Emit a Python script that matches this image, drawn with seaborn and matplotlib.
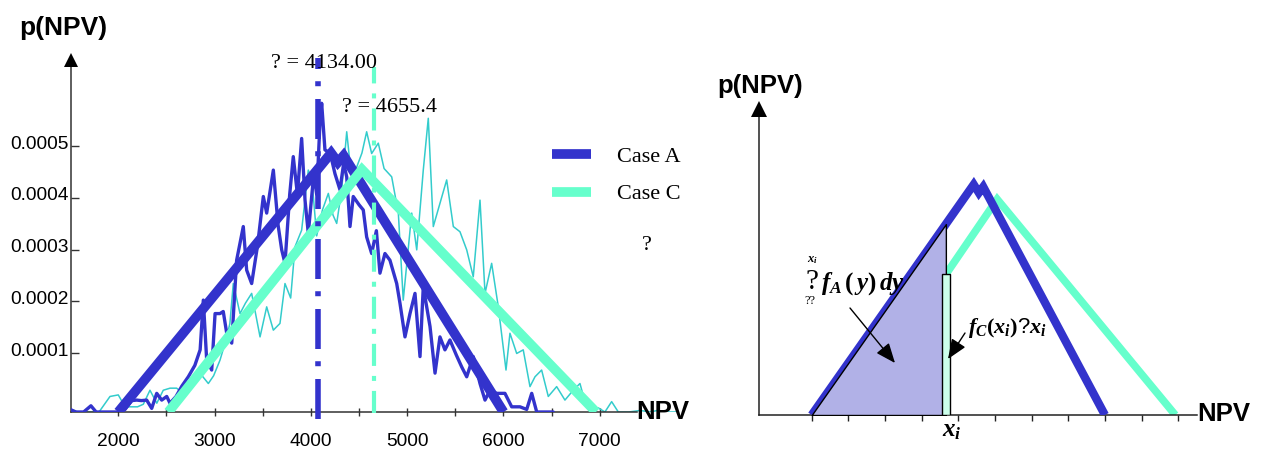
import numpy as np
import matplotlib
matplotlib.use("Agg")
import matplotlib.pyplot as plt
import seaborn as sns
from matplotlib.transforms import ScaledTranslation
from matplotlib.patches import FancyArrowPatch

# ---------------- data ----------------
# fitted triangular distributions (NPV, density)
case_a_npv = [2000, 4210, 4280, 4340, 6000]
case_a_p = [0.0, 5.0e-4, 4.82e-4, 4.95e-4, 0.0]
case_c_npv = [2520, 4530, 6960]
case_c_p = [0.0, 4.68e-4, 0.0]

# simulated (noisy) densities, values in units of 1e-4
sim_a_npv = [1500, 1560, 1640, 1716, 1770, 1850, 1930, 2000, 2070, 2140,
             2191, 2240, 2295, 2347, 2399, 2451, 2503, 2537, 2600, 2660,
             2727, 2795, 2850, 2883, 2918, 2970, 3005, 3056, 3090, 3126,
             3178, 3229, 3298, 3333, 3385, 3445, 3506, 3541, 3610, 3660,
             3697, 3731, 3780, 3817, 3860, 3904, 3939, 3973, 4030, 4060,
             4094, 4112, 4146, 4200, 4250, 4302, 4340, 4372, 4406, 4440,
             4500, 4544, 4579, 4631, 4680, 4717, 4769, 4821, 4891, 4925,
             4977, 5029, 5081, 5133, 5167, 5237, 5289, 5340, 5392, 5444,
             5510, 5566, 5618, 5686, 5756, 5808, 5860, 5929, 6015, 6085,
             6171, 6241, 6293, 6345, 6430, 6517]
sim_a_p = [0.05, 0.0, 0.0, 0.12, 0.0, 0.0, 0.0, 0.0, 0.05, 0.22,
           0.23, 0.22, 0.23, 0.07, 0.36, 0.23, 0.30, 0.17, 0.30, 0.50,
           0.68, 0.90, 1.20, 2.16, 1.00, 0.81, 1.90, 1.90, 1.94, 1.52,
           1.33, 2.93, 3.58, 2.74, 2.48, 3.20, 4.16, 3.84, 4.67, 3.60,
           3.13, 2.87, 4.20, 4.93, 4.20, 5.28, 4.09, 3.45, 4.60, 4.20,
           5.57, 5.96, 5.06, 5.00, 4.60, 4.29, 4.80, 4.54, 3.58, 4.16,
           4.00, 3.90, 3.38, 3.06, 3.50, 2.68, 3.06, 2.93, 2.48, 2.10,
           1.45, 1.90, 2.29, 1.07, 2.42, 1.65, 0.75, 1.45, 1.20, 1.39,
           1.10, 0.87, 0.68, 1.07, 0.55, 0.23, 0.42, 0.36, 0.36, 0.10,
           0.10, 0.05, 0.36, 0.0, 0.0, 0.0]
sim_c_npv = [1464, 1582, 1700, 1800, 1914, 2000, 2070, 2140, 2200, 2260,
             2329, 2400, 2467, 2537, 2606, 2675, 2760, 2848, 2935, 2990,
             3056, 3120, 3159, 3194, 3264, 3320, 3385, 3472, 3541, 3610,
             3679, 3731, 3790, 3835, 3904, 3973, 4010, 4060, 4120, 4181,
             4230, 4268, 4320, 4372, 4406, 4470, 4530, 4579, 4631, 4700,
             4760, 4839, 4908, 4959, 5047, 5099, 5167, 5219, 5271,
             5410, 5479, 5548, 5618, 5686, 5756, 5808, 5877, 5946, 6026,
             6067, 6137, 6205, 6275, 6327, 6396, 6465, 6552, 6638, 6724,
             6794, 6845, 6915, 6984, 7053, 7123, 7192, 7300, 7420, 7520,
             7600, 7700, 7812]
sim_c_p = [0.08, 0.0, 0.0, 0.0, 0.30, 0.33, 0.10, 0.10, 0.10, 0.15,
           0.42, 0.17, 0.42, 0.46, 0.46, 0.36, 0.50, 0.75, 0.55, 0.70,
           1.00, 1.40, 1.71, 2.48, 1.90, 2.10, 2.29, 1.45, 2.03, 1.58,
           1.71, 2.48, 2.20, 3.19, 3.51, 4.67, 4.50, 3.40, 3.90, 4.22,
           3.80, 3.64, 4.30, 5.41, 4.80, 4.70, 5.00, 5.41, 4.99, 5.19,
           4.70, 4.54, 3.84, 2.16, 3.84, 3.13, 4.67, 5.67, 3.58,
           4.48, 3.58, 3.48, 3.13, 2.61, 4.09, 2.29, 2.87, 2.03, 0.81,
           1.52, 1.13, 1.20, 0.49, 0.68, 0.81, 0.30, 0.49, 0.23, 0.42,
           0.55, 0.20, 0.05, 0.08, 0.0, 0.20, 0.0, 0.0, 0.03, 0.0,
           0.03, 0.0, 0.0]

mean_a_pos = 4070
mean_c_pos = 4660
mean_a_label = "? = 4134.00"
mean_c_label = "? = 4655.4"
legend_labels = ["Case A", "Case C"]

ytick_vals = [0.0001, 0.0002, 0.0003, 0.0004, 0.0005]
ytick_labels = ["0.0001", "0.0002", "0.0003", "0.0004", "0.0005"]
xtick_vals = [2000, 2500, 3000, 3500, 4000, 4500, 5000, 5500, 6000, 6500, 7000]
xtick_labels = ["2000", "", "3000", "", "4000", "", "5000", "", "6000", "", "7000"]

x_i = 3830
bar_width = 104
right_ticks = [2000, 2500, 3000, 3500, 4000, 4500, 5000, 5500, 6000, 6500, 7000]

# ---------------- style ----------------
BLUE = "#3333CC"
MINT = "#66FFCC"
TEAL = "#33CCCC"
FILL = "#B1B1E7"
BAR = "#CCFFEB"
SERIF = "Liberation Serif"
SANS = "Liberation Sans"

sns.set_theme(style="white")
plt.rcParams["font.family"] = [SANS, "DejaVu Sans"]
plt.rcParams["text.color"] = "black"
plt.rcParams["axes.labelcolor"] = "black"
plt.rcParams["xtick.color"] = "black"
plt.rcParams["ytick.color"] = "black"
plt.rcParams["mathtext.fontset"] = "custom"
plt.rcParams["mathtext.it"] = "Liberation Serif:italic:bold"
plt.rcParams["mathtext.rm"] = "Liberation Serif:bold"
plt.rcParams["mathtext.bf"] = "Liberation Serif:bold"

W, H = 1266, 450


def fx(px):
    return px / W


def fy(py):
    return 1 - py / H


fig = plt.figure(figsize=(W / 100, H / 100), dpi=100)

# ================= left chart =================
axL = fig.add_axes([fx(71), fy(412), (678 - 71) / W, (412 - 59.5) / H])
axL.set_xlim(1509, 7812)
axL.set_ylim(0, 6.805e-4)

sns.lineplot(x=sim_c_npv, y=np.array(sim_c_p) * 1e-4, ax=axL, color=TEAL,
             linewidth=1.1, estimator=None, sort=False, legend=False, zorder=2)
sns.lineplot(x=sim_a_npv, y=np.array(sim_a_p) * 1e-4, ax=axL, color=BLUE,
             linewidth=2.4, estimator=None, sort=False, legend=False, zorder=3)
sns.lineplot(x=case_a_npv, y=case_a_p, ax=axL, color=BLUE, linewidth=7,
             estimator=None, sort=False, label=legend_labels[0], zorder=4,
             solid_capstyle="butt", solid_joinstyle="miter")
sns.lineplot(x=case_c_npv, y=case_c_p, ax=axL, color=MINT, linewidth=7,
             estimator=None, sort=False, label=legend_labels[1], zorder=5,
             solid_capstyle="butt", solid_joinstyle="miter")

hL = 412 - 59.5
axL.axvline(mean_a_pos, ymin=-(419 - 412) / hL, ymax=(412 - 58) / hL, color=BLUE,
            lw=4, linestyle=(0, (7.2, 2.3, 0.9, 2.2)), clip_on=False, zorder=6)
axL.axvline(mean_c_pos, ymin=-(413 - 412) / hL, ymax=(412 - 67) / hL, color=MINT,
            lw=3, linestyle=(0, (5.3, 2.4, 1.2, 2.4)), clip_on=False, zorder=6)

for s in ["top", "right"]:
    axL.spines[s].set_visible(False)
for s in ["left", "bottom"]:
    axL.spines[s].set_color("#333333")
    axL.spines[s].set_linewidth(1.1)
axL.spines["bottom"].set_bounds(1509, 7390)

tick_shift = 1.35e-5
axL.set_yticks([v + tick_shift for v in ytick_vals], labels=ytick_labels)
axL.set_xticks(xtick_vals, labels=xtick_labels)
axL.tick_params(axis="y", direction="in", length=5.5, width=1, color="#333333",
                pad=1.5, labelsize=13.8, labelcolor="black", left=True)
axL.tick_params(axis="x", direction="inout", length=5.8, width=1, color="#333333",
                pad=12, labelsize=13.8, labelcolor="black", bottom=True)
off = ScaledTranslation(0, 4 / 100, fig.dpi_scale_trans)
for lab in axL.get_yticklabels():
    lab.set_transform(lab.get_transform() + off)
axL.grid(False)
axL.set_xlabel("")
axL.set_ylabel("")

axL.plot(0, 1, marker="^", ms=10, color="black", mew=0, transform=axL.transAxes,
         clip_on=False, zorder=10)

leg = axL.legend(loc="upper left", bbox_to_anchor=(fx(552), fy(146)),
                 bbox_transform=fig.transFigure, frameon=False, borderpad=0,
                 borderaxespad=0, handlelength=1.76, handletextpad=1.17,
                 labelspacing=0.78, prop={"family": SERIF, "size": 16})
for t in leg.get_texts():
    t.set_color("black")

fig.text(fx(63), fy(28), "p(NPV)", ha="center", va="center", fontsize=19,
         fontweight="bold", family=SANS)
fig.text(fx(663), fy(412), "NPV", ha="center", va="center", fontsize=18.5,
         fontweight="bold", family=SANS)
fig.text(fx(324), fy(63), mean_a_label, ha="center", va="center", fontsize=16,
         family=SERIF)
fig.text(fx(390), fy(107), mean_c_label, ha="center", va="center", fontsize=16,
         family=SERIF)
fig.text(fx(647), fy(246), "?", ha="center", va="center", fontsize=16, family=SERIF)

# ================= right chart =================
axR = fig.add_axes([fx(759.3), fy(415), (1196.7 - 759.3) / W, (415 - 109.2) / H])
axR.set_xlim(1285, 7252)
axR.set_ylim(0, 6.633e-4)

sns.lineplot(x=case_c_npv, y=case_c_p, ax=axR, color=MINT, linewidth=5.5,
             estimator=None, sort=False, legend=False, zorder=2,
             solid_capstyle="butt", solid_joinstyle="miter")
sns.lineplot(x=case_a_npv, y=case_a_p, ax=axR, color=BLUE, linewidth=6,
             estimator=None, sort=False, legend=False, zorder=3,
             solid_capstyle="butt", solid_joinstyle="miter")
fill_x = [case_a_npv[0], x_i]
fill_y = [0.0, float(np.interp(x_i, case_a_npv, case_a_p))]
axR.fill_between(fill_x, fill_y, 0, facecolor=FILL, edgecolor="black", lw=1.0,
                 zorder=4)
axR.bar([x_i], [float(np.interp(x_i, case_c_npv, case_c_p))], width=bar_width,
        color=BAR, edgecolor="black", linewidth=1.0, zorder=5)

for s in ["top", "right"]:
    axR.spines[s].set_visible(False)
for s in ["left", "bottom"]:
    axR.spines[s].set_color("#222222")
    axR.spines[s].set_linewidth(1.1)
axR.set_xticks(right_ticks, labels=[""] * len(right_ticks))
axR.set_yticks([])
axR.tick_params(axis="x", direction="out", length=4.5, width=1, color="#222222",
                bottom=True)
axR.grid(False)
axR.set_xlabel("")
axR.set_ylabel("")

axR.plot(0, 1, marker="^", ms=11, color="black", mew=0, transform=axR.transAxes,
         clip_on=False, zorder=10)

fig.text(fx(760), fy(86), "p(NPV)", ha="center", va="center", fontsize=18.5,
         fontweight="bold", family=SANS)
fig.text(fx(1224), fy(414), "NPV", ha="center", va="center", fontsize=18.5,
         fontweight="bold", family=SANS)

# integral annotation
fig.text(fx(812), fy(282), "?", ha="center", va="center", fontsize=21,
         family=SERIF)
fig.text(fx(812), fy(260), r"$x_i$", ha="center", va="center", fontsize=9)
fig.text(fx(810), fy(301), "??", ha="center", va="center", fontsize=9, family=SERIF)
fig.text(fx(821), fy(290), r"$f_A\,(\,y)\,dy$", ha="left", va="baseline",
         fontsize=18)
fig.text(fx(968), fy(333), r"$f_C(x_i)$?$x_i$", ha="left", va="baseline",
         fontsize=16)
fig.text(fx(952), fy(436), r"$x_i$", ha="center", va="baseline", fontsize=18)

for (x0, y0, x1, y1) in [(850, 308, 895, 363), (965, 333, 948, 359)]:
    arr = FancyArrowPatch(posA=(fx(x0), fy(y0)), posB=(fx(x1), fy(y1)),
                          transform=fig.transFigure,
                          arrowstyle="-|>,head_length=1.1,head_width=0.45",
                          mutation_scale=11, color="black", lw=1.0,
                          shrinkA=0, shrinkB=0)
    fig.add_artist(arr)

fig.savefig("out.png", dpi=100)
